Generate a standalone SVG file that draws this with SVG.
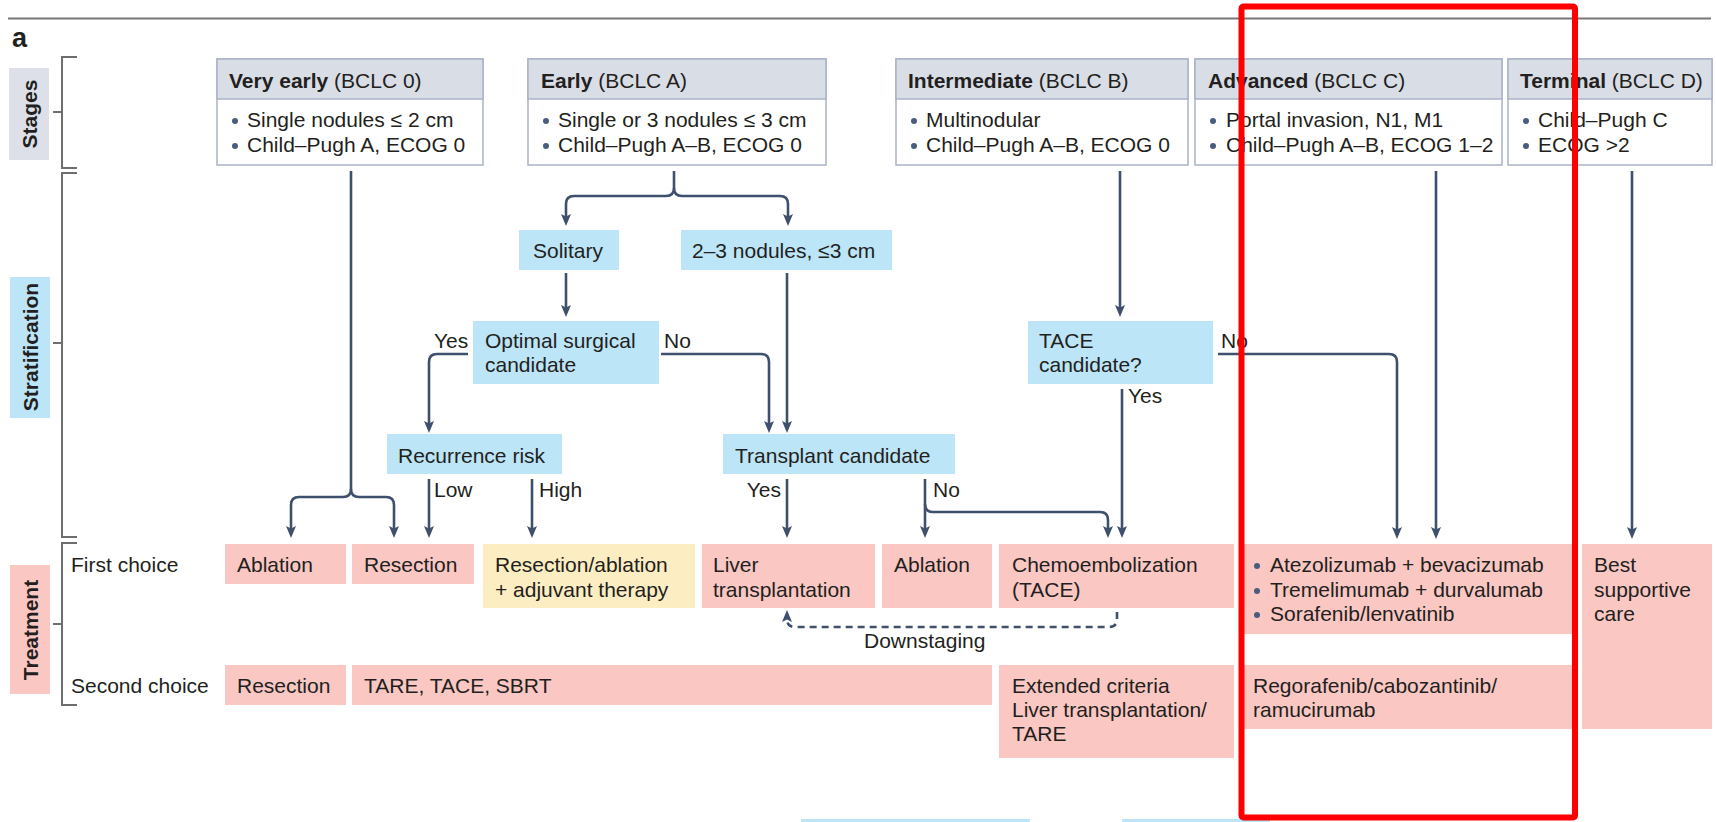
<svg xmlns="http://www.w3.org/2000/svg" width="1716" height="822" viewBox="0 0 1716 822">
  <style>
    text { font-family: "Liberation Sans", Arial, sans-serif; font-size: 21px; fill: #231f20; }
    .b { font-weight: bold; }
    .hdr { fill: #d9dde6; stroke: #a9b3c8; stroke-width: 1.5; }
    .body { fill: #ffffff; stroke: #a9b3c8; stroke-width: 1.5; }
    .blue { fill: #bce5f8; }
    .pink { fill: #fac7c3; }
    .yellow { fill: #fdedc2; }
    .grey { fill: #dde0e8; }
    .dot { fill: #4a5d7e; }
    .brk { fill: none; stroke: #6e6e6e; stroke-width: 2; }
    .con { fill: none; stroke: #3f506e; stroke-width: 2.6; }
    .dash { stroke-dasharray: 7 5; }
  </style>
  <defs>
    <marker id="arr" viewBox="0 0 12 10" refX="8" refY="5" markerWidth="12" markerHeight="10" markerUnits="userSpaceOnUse" orient="auto">
      <path d="M0,0 L12,5 L0,10 L2.5,5 z" fill="#3f506e"/>
    </marker>
  </defs>

  <!-- panel header rule and letter -->
  <line x1="8" y1="18.5" x2="1711" y2="18.5" stroke="#777" stroke-width="2"/>
  <text x="12" y="47" class="b" style="font-size:27px">a</text>

  <!-- row labels and brackets -->
  <g id="row-stages">
    <rect class="grey" x="9" y="68" width="40" height="92"/>
    <text class="b" text-anchor="middle" transform="translate(36.5,114) rotate(-90)">Stages</text>
    <path class="brk" d="M77,57 H62 V168 H77 M53,112 H62"/>
  </g>
  <g id="row-stratification">
    <rect class="blue" x="10" y="277" width="40" height="141"/>
    <text class="b" text-anchor="middle" transform="translate(37.5,347) rotate(-90)">Stratification</text>
    <path class="brk" d="M77,173 H62 V537 H77 M53,343 H62"/>
  </g>
  <g id="row-treatment">
    <rect class="pink" x="10" y="565" width="40" height="129"/>
    <text class="b" text-anchor="middle" transform="translate(37.5,630) rotate(-90)">Treatment</text>
    <path class="brk" d="M77,543 H62 V705 H77 M53,624 H62"/>
    <text x="71" y="572">First choice</text>
    <text x="71" y="693">Second choice</text>
  </g>

  <!-- stage boxes -->
  <g id="stage-0">
    <rect class="body" x="217" y="59" width="266" height="106"/>
    <rect class="hdr" x="217" y="59" width="266" height="40"/>
    <text x="229" y="88"><tspan class="b">Very early</tspan> (BCLC 0)</text>
    <circle class="dot" cx="235" cy="121" r="3"/>
    <circle class="dot" cx="235" cy="146" r="3"/>
    <text x="247" y="127">Single nodules ≤ 2 cm</text>
    <text x="247" y="152">Child–Pugh A, ECOG 0</text>
  </g>
  <g id="stage-a">
    <rect class="body" x="528" y="59" width="298" height="106"/>
    <rect class="hdr" x="528" y="59" width="298" height="40"/>
    <text x="541" y="88"><tspan class="b">Early</tspan> (BCLC A)</text>
    <circle class="dot" cx="546" cy="121" r="3"/>
    <circle class="dot" cx="546" cy="146" r="3"/>
    <text x="558" y="127">Single or 3 nodules ≤ 3 cm</text>
    <text x="558" y="152">Child–Pugh A–B, ECOG 0</text>
  </g>
  <g id="stage-b">
    <rect class="body" x="896" y="59" width="292" height="106"/>
    <rect class="hdr" x="896" y="59" width="292" height="40"/>
    <text x="908" y="88"><tspan class="b">Intermediate</tspan> (BCLC B)</text>
    <circle class="dot" cx="914" cy="121" r="3"/>
    <circle class="dot" cx="914" cy="146" r="3"/>
    <text x="926" y="127">Multinodular</text>
    <text x="926" y="152">Child–Pugh A–B, ECOG 0</text>
  </g>
  <g id="stage-c">
    <rect class="body" x="1195" y="59" width="307" height="106"/>
    <rect class="hdr" x="1195" y="59" width="307" height="40"/>
    <text x="1208" y="88"><tspan class="b">Advanced</tspan> (BCLC C)</text>
    <circle class="dot" cx="1213" cy="121" r="3"/>
    <circle class="dot" cx="1213" cy="146" r="3"/>
    <text x="1226" y="127">Portal invasion, N1, M1</text>
    <text x="1226" y="152">Child–Pugh A–B, ECOG 1–2</text>
  </g>
  <g id="stage-d">
    <rect class="body" x="1508" y="59" width="204" height="106"/>
    <rect class="hdr" x="1508" y="59" width="204" height="40"/>
    <text x="1520" y="88"><tspan class="b">Terminal</tspan> (BCLC D)</text>
    <circle class="dot" cx="1526" cy="121" r="3"/>
    <circle class="dot" cx="1526" cy="146" r="3"/>
    <text x="1538" y="127">Child–Pugh C</text>
    <text x="1538" y="152">ECOG &gt;2</text>
  </g>

  <!-- stratification nodes -->
  <g id="solitary">
    <rect class="blue" x="519" y="230" width="100" height="40"/>
    <text x="533" y="258">Solitary</text>
  </g>
  <g id="nodules">
    <rect class="blue" x="681" y="230" width="211" height="40"/>
    <text x="692" y="258">2–3 nodules, ≤3 cm</text>
  </g>
  <g id="optimal-surgical">
    <rect class="blue" x="473" y="321" width="186" height="63"/>
    <text x="485" y="348">Optimal surgical</text>
    <text x="485" y="372">candidate</text>
  </g>
  <g id="tace-candidate">
    <rect class="blue" x="1028" y="321" width="185" height="63"/>
    <text x="1039" y="348">TACE</text>
    <text x="1039" y="372">candidate?</text>
  </g>
  <g id="recurrence-risk">
    <rect class="blue" x="387" y="434" width="175" height="40"/>
    <text x="398" y="463">Recurrence risk</text>
  </g>
  <g id="transplant-candidate">
    <rect class="blue" x="723" y="434" width="232" height="40"/>
    <text x="735" y="463">Transplant candidate</text>
  </g>

  <!-- first-choice treatments -->
  <g id="t1-ablation">
    <rect class="pink" x="225" y="544" width="121" height="40"/>
    <text x="237" y="572">Ablation</text>
  </g>
  <g id="t1-resection">
    <rect class="pink" x="352" y="544" width="122" height="40"/>
    <text x="364" y="572">Resection</text>
  </g>
  <g id="t1-adjuvant">
    <rect class="yellow" x="483" y="544" width="212" height="64"/>
    <text x="495" y="572">Resection/ablation</text>
    <text x="495" y="597">+ adjuvant therapy</text>
  </g>
  <g id="t1-transplant">
    <rect class="pink" x="702" y="544" width="173" height="64"/>
    <text x="713" y="572">Liver</text>
    <text x="713" y="597">transplantation</text>
  </g>
  <g id="t1-ablation-b">
    <rect class="pink" x="882" y="544" width="110" height="64"/>
    <text x="894" y="572">Ablation</text>
  </g>
  <g id="t1-tace">
    <rect class="pink" x="999" y="544" width="235" height="64"/>
    <text x="1012" y="572">Chemoembolization</text>
    <text x="1012" y="597">(TACE)</text>
  </g>
  <g id="t1-systemic">
    <rect class="pink" x="1241" y="544" width="331" height="90"/>
    <circle class="dot" cx="1257" cy="566" r="3"/>
    <circle class="dot" cx="1257" cy="591" r="3"/>
    <circle class="dot" cx="1257" cy="615" r="3"/>
    <text x="1270" y="572">Atezolizumab + bevacizumab</text>
    <text x="1270" y="597">Tremelimumab + durvalumab</text>
    <text x="1270" y="621">Sorafenib/lenvatinib</text>
  </g>
  <g id="t-supportive">
    <rect class="pink" x="1582" y="544" width="130" height="185"/>
    <text x="1594" y="572">Best</text>
    <text x="1594" y="597">supportive</text>
    <text x="1594" y="621">care</text>
  </g>

  <!-- second-choice treatments -->
  <g id="t2-resection">
    <rect class="pink" x="225" y="665" width="121" height="40"/>
    <text x="237" y="693">Resection</text>
  </g>
  <g id="t2-locoregional">
    <rect class="pink" x="352" y="665" width="640" height="40"/>
    <text x="364" y="693">TARE, TACE, SBRT</text>
  </g>
  <g id="t2-extended">
    <rect class="pink" x="999" y="665" width="235" height="93"/>
    <text x="1012" y="693">Extended criteria</text>
    <text x="1012" y="717">Liver transplantation/</text>
    <text x="1012" y="741">TARE</text>
  </g>
  <g id="t2-systemic">
    <rect class="pink" x="1241" y="665" width="331" height="64"/>
    <text x="1253" y="693">Regorafenib/cabozantinib/</text>
    <text x="1253" y="717">ramucirumab</text>
  </g>

  <!-- connectors -->
  <g id="connectors" marker-end="url(#arr)">
    <path class="con" d="M351,171 V489 Q351,497 343,497 H299 Q291,497 291,505 V534"/>
    <path class="con" d="M351,489 Q351,497 359,497 H386 Q394,497 394,505 V534"/>
    <path class="con" d="M674,171 V188 Q674,196 666,196 H574 Q566,196 566,204 V222"/>
    <path class="con" d="M674,188 Q674,196 682,196 H780 Q788,196 788,204 V222"/>
    <path class="con" d="M566,273 V313"/>
    <path class="con" d="M787,273 V429"/>
    <path class="con" d="M468,354 H437 Q429,354 429,362 V429"/>
    <path class="con" d="M661,354 H761 Q769,354 769,362 V429"/>
    <path class="con" d="M429,479 V534"/>
    <path class="con" d="M532,479 V534"/>
    <path class="con" d="M787,479 V534"/>
    <path class="con" d="M925,479 V534"/>
    <path class="con" d="M925,504 Q925,512 933,512 H1100 Q1108,512 1108,520 V534"/>
    <path class="con" d="M1120,171 V313"/>
    <path class="con" d="M1122,389 V534"/>
    <path class="con" d="M1218,354 H1389 Q1397,354 1397,362 V535"/>
    <path class="con" d="M1436,171 V535"/>
    <path class="con" d="M1632,171 V535"/>
    <path class="con dash" d="M1117,612 V619 Q1117,627 1109,627 H795 Q787,627 787,619 V614"/>
  </g>

  <!-- branch labels -->
  <g id="labels">
    <text x="434" y="348">Yes</text>
    <text x="664" y="348">No</text>
    <text x="434" y="497">Low</text>
    <text x="539" y="497">High</text>
    <text x="781" y="497" text-anchor="end">Yes</text>
    <text x="933" y="497">No</text>
    <text x="1128" y="403">Yes</text>
    <text x="1221" y="348">No</text>
    <text x="864" y="648">Downstaging</text>
  </g>

  <!-- next panel, cut off at the lower edge -->
  <rect class="blue" x="801" y="819" width="229" height="10"/>
  <rect class="blue" x="1122" y="819" width="148" height="10"/>

  <!-- highlight frame -->
  <rect x="1241.5" y="6.5" width="333.5" height="811" fill="none" stroke="#ff0000" stroke-width="6" rx="2"/>
</svg>
